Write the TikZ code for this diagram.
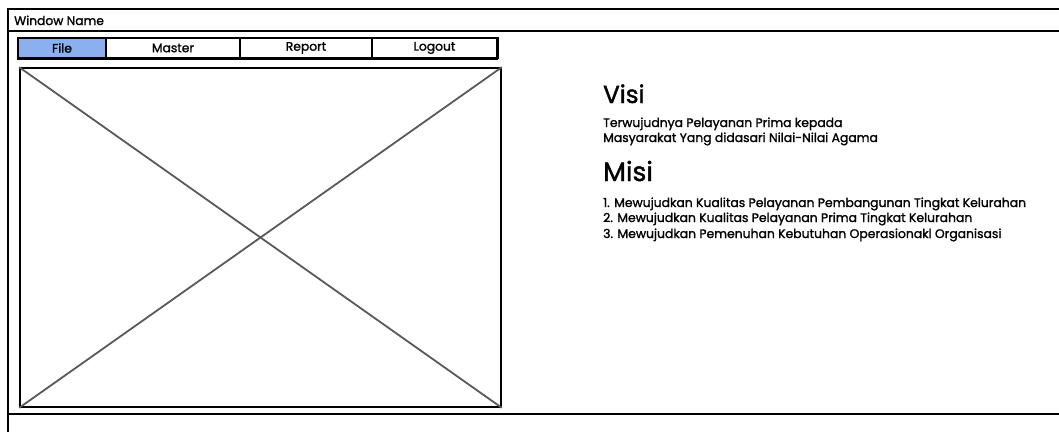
\documentclass[tikz,border=0pt]{standalone}
\usepackage{fontspec}
\setmainfont{Poppins}[FakeBold=1.5]
\begin{document}
\begin{tikzpicture}[x=1pt,y=-1pt,
  frame/.style={draw=black,line width=1.6pt},
  tab/.style={draw=black,line width=1.2pt,minimum height=20pt,inner sep=0pt,font=\fontsize{12.3}{14}\selectfont},
  cross/.style={draw=black!65,line width=1.8pt},
  body/.style={anchor=base west,inner sep=0pt,font=\fontsize{12.4}{14}\selectfont},
  head/.style={anchor=base west,inner sep=0pt,font=\fontsize{24.5}{27}\selectfont}]
\useasboundingbox (0,0) rectangle (1059,431);
% window
\draw[frame] (1065,9) -- (8,9) -- (8,440);
\draw[frame] (8,31) -- (1065,31);
\draw[frame] (8,414) -- (1065,414);
\node[anchor=base west,inner sep=0pt,font=\fontsize{12.3}{14}\selectfont] (title) at (14,25) {Window Name};
% tabs
\node[tab,fill={rgb,255:red,138;green,176;blue,240},minimum width=88pt] (file) at (62,48) {File};
\node[tab,minimum width=134pt] (master) at (173,48) {Master};
\node[tab,minimum width=132pt] (report) at (306,48) {Report};
\node[tab,minimum width=125pt] (logout) at (434.5,48) {Logout};
\draw[line width=2.4pt] (file.south west) -- (logout.south east);
\draw[line width=2.4pt] (logout.north east) -- (logout.south east);
% image placeholder
\node[draw=black,line width=1.6pt,minimum width=481pt,minimum height=339pt,inner sep=0pt] (img) at (260.5,237.5) {};
\draw[cross] (img.north west) -- (img.south east);
\draw[cross] (img.south west) -- (img.north east);
% text
\node[head] (visi) at (603,103) {Visi};
\node[body] (v1) at (603,127) {Terwujudnya Pelayanan Prima kepada};
\node[body] (v2) at (603,142) {Masyarakat Yang didasari Nilai-Nilai Agama};
\node[head,font=\fontsize{26.5}{29}\selectfont] (misi) at (603,181) {Misi};
\node[body] (m1) at (603,207) {1. Mewujudkan Kualitas Pelayanan Pembangunan Tingkat Kelurahan};
\node[body] (m2) at (603,222) {2. Mewujudkan Kualitas Pelayanan Prima Tingkat Kelurahan};
\node[body] (m3) at (603,238) {3. Mewujudkan Pemenuhan Kebutuhan Operasionakl Organisasi};
\end{tikzpicture}
\end{document}
